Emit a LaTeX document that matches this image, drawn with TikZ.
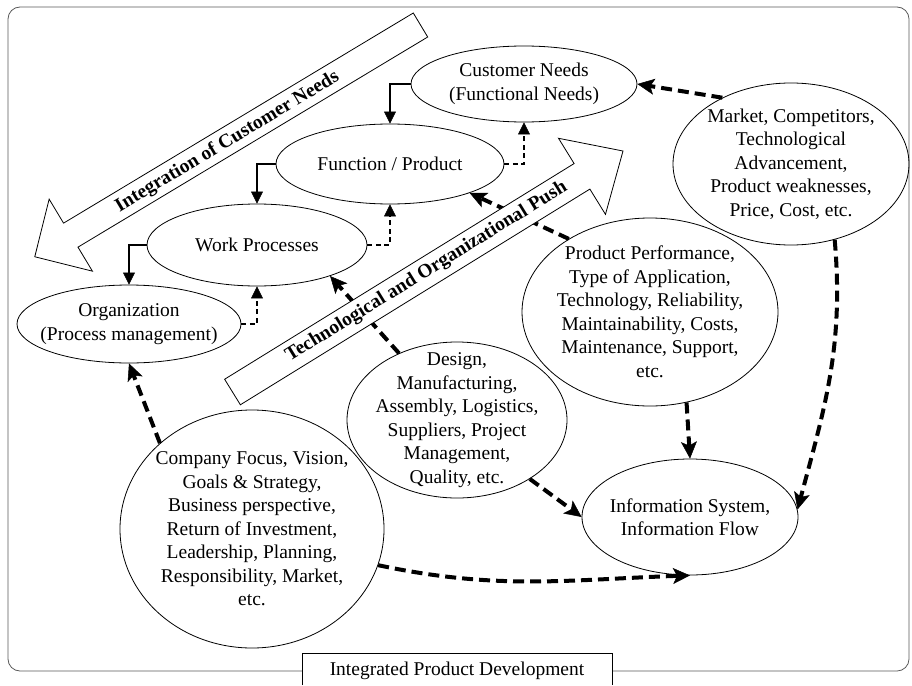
\documentclass[tikz,border=0pt]{standalone}
\usepackage{fontspec}
\setmainfont{Liberation Serif}
\usetikzlibrary{arrows.meta,shapes.geometric}
\begin{document}
\begin{tikzpicture}[x=1pt,y=1pt,
  every node/.style={font=\fontsize{19.5}{23.5}\selectfont},
  oval/.style={ellipse, draw, line width=0.8pt, inner sep=0pt},
  ovaltext/.style={align=center, inner sep=0pt},
  solidarr/.style={line width=2pt, -{Triangle[length=12pt,width=12pt,line width=0.5pt]}},
  thindash/.style={line width=1.8pt, dash pattern=on 5pt off 3.5pt, -{Triangle[length=12pt,width=12pt,line width=0.5pt]}},
  thickdash/.style={line width=4pt, dash pattern=on 11pt off 6pt, -{Stealth[length=17pt,width=16pt,inset=4pt,line width=0.5pt]}},
  bigarrow/.style={draw, fill=white, line width=0.8pt},
  arrowtext/.style={font=\fontsize{19.5}{23.5}\selectfont\bfseries, inner sep=0pt},
  framestyle/.style={line width=0.8pt, black!65, rounded corners=12pt}
]
\useasboundingbox (0,0) rectangle (912,-685);
\draw[framestyle] (8,-7) rectangle (909,-671);

% ellipses
\node[oval, minimum width=226pt, minimum height=76pt] (CN) at (524,-84) {};
\node[ovaltext] (CNt) at (CN) {Customer Needs\\(Functional Needs)};
\node[oval, minimum width=228pt, minimum height=80pt] (FP) at (390,-164) {};
\node[ovaltext] (FPt) at (FP) {Function / Product};
\node[oval, minimum width=220pt, minimum height=82pt] (WP) at (257,-245) {};
\node[ovaltext] (WPt) at (WP) {Work Processes};
\node[oval, minimum width=224pt, minimum height=78pt] (ORG) at (129,-324) {};
\node[ovaltext] (ORGt) at (ORG) {Organization\\(Process management)};
\node[oval, minimum width=236pt, minimum height=162pt] (MKT) at (791,-164) {};
\node[ovaltext] (MKTt) at (MKT) {Market, Competitors,\\Technological\\Advancement,\\Product weaknesses,\\Price, Cost, etc.};
\node[oval, minimum width=256pt, minimum height=188pt] (PP) at (650,-312) {};
\node[ovaltext] (PPt) at (PP) {Product Performance,\\Type of Application,\\Technology, Reliability,\\Maintainability, Costs,\\Maintenance, Support,\\etc.};
\node[oval, minimum width=220pt, minimum height=156pt] (DES) at (457,-420) {};
\node[ovaltext] (DESt) at (DES) {Design,\\Manufacturing,\\Assembly, Logistics,\\Suppliers, Project\\Management,\\Quality, etc.};
\node[oval, minimum width=264pt, minimum height=238pt] (CF) at (252,-529) {};
\node[ovaltext] (CFt) at (CF) {Company Focus, Vision,\\Goals \& Strategy,\\Business perspective,\\Return of Investment,\\Leadership, Planning,\\Responsibility, Market,\\etc.};
\node[oval, minimum width=216pt, minimum height=116pt] (INFO) at (690,-517) {};
\node[ovaltext] (INFOt) at (INFO) {Information System,\\Information Flow};

% elbow connectors
\draw[solidarr] (CN.west) -| (FP.north);
\draw[solidarr] (FP.west) -| (WP.north);
\draw[solidarr] (WP.west) -| (ORG.north);
\draw[thindash] (ORG.east) -| (WP.south);
\draw[thindash] (WP.east) -| (FP.south);
\draw[thindash] (FP.east) -| (CN.south);

% thick dashed connectors
\draw[thickdash] (MKT.136) -- (CN.east);
\draw[thickdash] (PP.138) -- (FP.-20);
\draw[thickdash] (DES.131) -- (WP.-23);
\draw[thickdash] (CF.137) -- (ORG.south);
\draw[thickdash] (CF.-16) to[out=-12, in=182] (INFO.south);
\draw[thickdash] (DES.-39) -- (INFO.west);
\draw[thickdash] (PP.-68) -- (INFO.north);
\draw[thickdash] (MKT.-60) to[out=-85, in=75] (INFO.4);

% big hollow arrows
\begin{scope}[shift={(420.5,-25)}, rotate=211]
  \draw[bigarrow] (0,14) -- (408,14) -- (408,42) -- (450,0) -- (408,-42) -- (408,-14) -- (0,-14) -- cycle;
\end{scope}
\node[arrowtext, rotate=31] (ICN) at (227.5,-142) {Integration of Customer Needs};
\begin{scope}[shift={(232.5,-392)}, rotate=31.68]
  \draw[bigarrow] (0,15) -- (410.7,15) -- (410.7,44.7) -- (458.9,0) -- (410.7,-44.7) -- (410.7,-15) -- (0,-15) -- cycle;
\end{scope}
\node[arrowtext, rotate=31.7] (TOP) at (426.5,-272) {Technological and Organizational Push};

% bottom label
\fill[white] (302,-653) rectangle (612,-685);
\draw[line width=0.8pt] (302,-685) -- (302,-653) -- (612,-653) -- (612,-685);
\node (IPD) at (457,-671) {Integrated Product Development};
\end{tikzpicture}
\end{document}
